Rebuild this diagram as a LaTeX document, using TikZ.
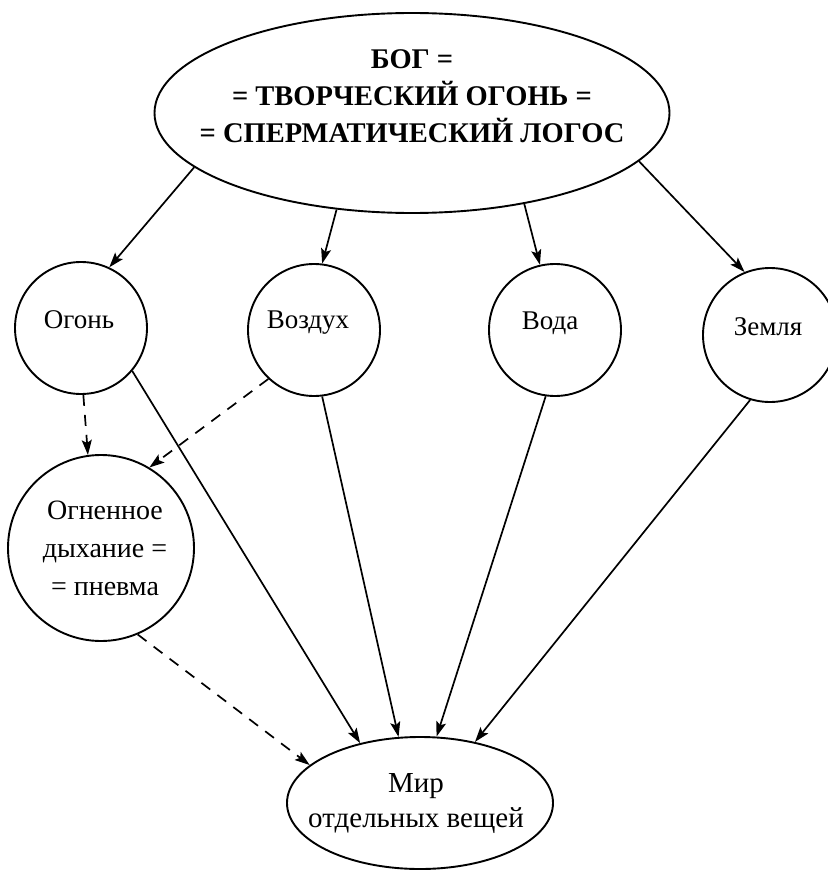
\documentclass[tikz,border=0pt]{standalone}
\usepackage{fontspec}
\setmainfont{Liberation Serif}
\usetikzlibrary{shapes.geometric,arrows.meta}
\begin{document}
\begin{tikzpicture}[x=1pt,y=-1pt,
  every node/.style={inner sep=0pt, line width=1.9pt},
  elem/.style={draw, circle, minimum size=132pt},
  conn/.style={line width=1.7pt, -{Stealth[length=15pt,width=10pt,inset=3pt]}},
  dconn/.style={conn, dash pattern=on 11pt off 9pt},
  elemtext/.style={font=\fontsize{27}{30}\selectfont}
]
\useasboundingbox (0,0) rectangle (827,872);
\node[draw, ellipse, minimum width=515pt, minimum height=200pt,
  label={[yshift=17pt, align=center, font=\bfseries\fontsize{28.5}{37}\selectfont]center:БОГ =\\= ТВОРЧЕСКИЙ ОГОНЬ =\\= СПЕРМАТИЧЕСКИЙ ЛОГОС}] (G) at (412,113) {};
\node[elem, label={[elemtext, xshift=-2pt, yshift=8pt]center:Огонь}] (F) at (81,328) {};
\node[elem, label={[elemtext, xshift=-6pt, yshift=7pt]center:Воздух}] (A) at (314,330) {};
\node[elem, label={[elemtext, xshift=-5pt, yshift=7pt]center:Вода}] (W) at (555,330) {};
\node[elem, minimum size=134pt, label={[elemtext, xshift=-2pt, yshift=8pt]center:Земля}] (E) at (770,335) {};
\node[draw, circle, minimum size=186pt,
  label={[align=center, font=\fontsize{28}{38}\selectfont, xshift=4pt]center:Огненное\\дыхание =\\= пневма}] (P) at (101,548) {};
\node[draw, ellipse, minimum width=266pt, minimum height=132pt,
  label={[align=center, font=\fontsize{29}{35}\selectfont, yshift=-1pt, xshift=-4pt]center:Мир\\отдельных вещей}] (M) at (420,803) {};
\draw[conn] (G.194) -- (F.65);
\draw[conn] (G.232) -- (A.83);
\draw[conn] (G.321) -- (W.103);
\draw[conn] (G.348) -- (E.112);
\draw[conn] (F.-40) -- (M.135);
\draw[conn] (A.-83) -- (M.108);
\draw[conn] (W.-98) -- (M.76);
\draw[conn] (E.-107) -- (M.48);
\draw[dconn] (F.-88) -- (P.98);
\draw[dconn] (A.227) -- (P.59);
\draw[dconn] (P.-67) -- (M.161);
\end{tikzpicture}
\end{document}
